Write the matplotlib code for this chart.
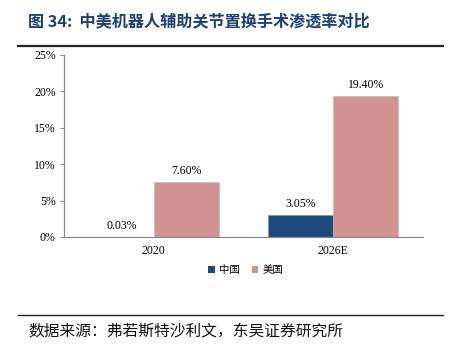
import numpy as np
import matplotlib.pyplot as plt
from matplotlib.lines import Line2D
from matplotlib.patches import Patch

plt.rcParams['font.family'] = ['Liberation Serif', 'Noto Sans CJK SC', 'DejaVu Sans']

years = ["2020", "2026E"]
china = [0.03, 3.05]
usa = [7.60, 19.40]
labels_cn = ["0.03%", "3.05%"]
labels_us = ["7.60%", "19.40%"]

c_china = "#1F497D"
c_usa = "#D39292"

fig = plt.figure(figsize=(4.51, 3.5), dpi=100)
ax = fig.add_axes([0.142, 0.323, 0.796, 0.52])

x = np.arange(len(years))
w = 0.362
b1 = ax.bar(x - w / 2, china, w, color=c_china, edgecolor="#8c8c8c", linewidth=0.4)
b2 = ax.bar(x + w / 2, usa, w, color=c_usa, edgecolor="#bbbbbb", linewidth=0.4)

for rect, txt in zip(b1, labels_cn):
    ax.text(rect.get_x() + rect.get_width() / 2, rect.get_height() + 0.7, txt,
            ha="center", va="bottom", fontsize=8.5)
for rect, txt in zip(b2, labels_us):
    ax.text(rect.get_x() + rect.get_width() / 2, rect.get_height() + 0.7, txt,
            ha="center", va="bottom", fontsize=8.5)

ax.set_xlim(-0.5, 1.5)
ax.set_ylim(0, 25)
ax.set_yticks(range(0, 26, 5))
ax.set_yticklabels([f"{v}%" for v in range(0, 26, 5)], fontsize=8.5)
ax.set_xticks(x)
ax.set_xticklabels(years, fontsize=8.5)
ax.tick_params(axis="x", length=0, pad=6)
ax.tick_params(axis="y", length=3, width=0.8, color="#888888", pad=3)
for s in ["top", "right"]:
    ax.spines[s].set_visible(False)
for s in ["left", "bottom"]:
    ax.spines[s].set_color("#888888")
    ax.spines[s].set_linewidth(0.9)

handles = [Patch(facecolor=c_china, label="中国"), Patch(facecolor=c_usa, label="美国")]
fig.legend(handles=handles, loc="center", bbox_to_anchor=(0.545, 0.228), ncol=2,
           frameon=False, handlelength=0.6, handleheight=0.6,
           handletextpad=0.4, columnspacing=1.2, prop={'family': 'Noto Sans CJK SC', 'size': 7.5})

# title, rules and source note
fig.text(0.062, 0.94, "图 34:  中美机器人辅助关节置换手术渗透率对比", fontsize=11.6,
         fontweight="bold", color="#1F3F73", ha="left", va="center",
         family=['Noto Sans CJK SC', 'DejaVu Sans'])
fig.add_artist(Line2D([0.04, 0.983], [0.868, 0.868], color="#222222", linewidth=1.6))
fig.add_artist(Line2D([0.04, 0.983], [0.1, 0.1], color="#222222", linewidth=1.0))
fig.text(0.064, 0.055, "数据来源：弗若斯特沙利文，东吴证券研究所", fontsize=11.3,
         ha="left", va="center", color="#111111", family=['Noto Sans CJK SC', 'DejaVu Sans'])

fig.savefig("out.png", dpi=100)
